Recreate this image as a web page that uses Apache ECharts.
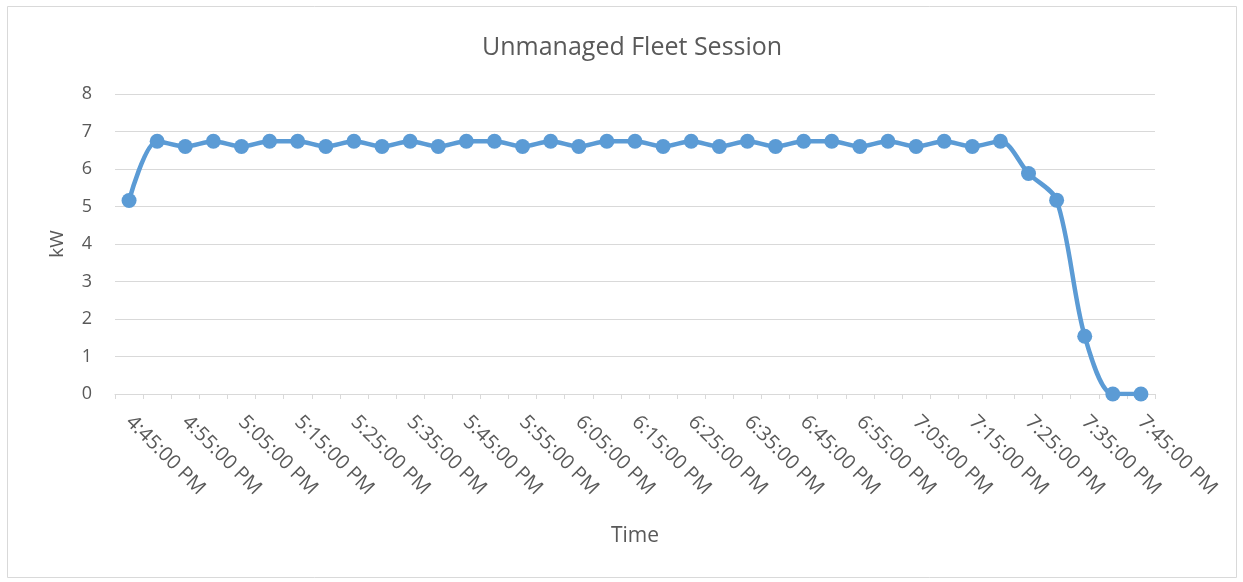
<!DOCTYPE html>
<html>
<head>
<meta charset="utf-8">
<title>Unmanaged Fleet Session</title>
<script src="https://cdn.jsdelivr.net/npm/echarts@6/dist/echarts.min.js"></script>
<style>
  html, body { margin: 0; padding: 0; background: #ffffff; }
  #chart { width: 1243px; height: 582px; }
</style>
</head>
<body>
<div id="chart"></div>
<script>
// Sample times, one every five minutes
const times = [
  '4:45:00 PM', '4:50:00 PM', '4:55:00 PM', '5:00:00 PM', '5:05:00 PM', '5:10:00 PM',
  '5:15:00 PM', '5:20:00 PM', '5:25:00 PM', '5:30:00 PM', '5:35:00 PM', '5:40:00 PM',
  '5:45:00 PM', '5:50:00 PM', '5:55:00 PM', '6:00:00 PM', '6:05:00 PM', '6:10:00 PM',
  '6:15:00 PM', '6:20:00 PM', '6:25:00 PM', '6:30:00 PM', '6:35:00 PM', '6:40:00 PM',
  '6:45:00 PM', '6:50:00 PM', '6:55:00 PM', '7:00:00 PM', '7:05:00 PM', '7:10:00 PM',
  '7:15:00 PM', '7:20:00 PM', '7:25:00 PM', '7:30:00 PM', '7:35:00 PM', '7:40:00 PM',
  '7:45:00 PM'
];

// Fleet charging power, kW
const powerKW = [
  5.16, 6.74, 6.60, 6.74, 6.60, 6.74, 6.74, 6.60, 6.74, 6.60,
  6.74, 6.60, 6.74, 6.74, 6.60, 6.74, 6.60, 6.74, 6.74, 6.60,
  6.74, 6.60, 6.74, 6.60, 6.74, 6.74, 6.60, 6.74, 6.60, 6.74,
  6.60, 6.74, 5.88, 5.17, 1.54, 0.00, 0.00
];

// Value axis ticks
const yTicks = [0, 1, 2, 3, 4, 5, 6, 7, 8];

const chartTitle = 'Unmanaged Fleet Session';
const xName = 'Time';
const yName = 'kW';

const textColor = '#595959';
const gridColor = '#d9d9d9';
const lineColor = '#5b9bd5';
const fontFamily = '"Open Sans", "Noto Sans", sans-serif';

const chart = echarts.init(document.getElementById('chart'), null, { renderer: 'canvas' });

chart.setOption({
  backgroundColor: '#ffffff',
  animation: false,
  textStyle: { fontFamily: fontFamily, color: textColor },
  graphic: [{
    type: 'rect',
    shape: { x: 7.5, y: 6.5, width: 1229, height: 571 },
    style: { fill: 'none', stroke: '#d9d9d9', lineWidth: 1 },
    silent: true
  }],
  title: {
    text: chartTitle,
    left: 477,
    top: 30,
    textStyle: { fontFamily: fontFamily, fontSize: 25, fontWeight: 'normal', color: textColor }
  },
  grid: { left: 115, right: 88, top: 94, bottom: 188, containLabel: false },
  xAxis: {
    type: 'category',
    data: times,
    boundaryGap: true,
    name: xName,
    nameLocation: 'middle',
    nameGap: 132,
    nameTextStyle: { fontFamily: fontFamily, fontSize: 21, color: textColor },
    axisLine: { show: true, lineStyle: { color: gridColor, width: 1 } },
    axisTick: { show: true, interval: 0, length: 5, lineStyle: { color: gridColor } },
    axisLabel: {
      interval: 1,
      rotate: -45,
      margin: 25,
      fontFamily: fontFamily,
      fontSize: 20,
      color: textColor
    },
    splitLine: { show: false }
  },
  yAxis: {
    type: 'value',
    min: yTicks[0],
    max: yTicks[yTicks.length - 1],
    interval: 1,
    name: yName,
    nameLocation: 'middle',
    nameGap: 48,
    nameRotate: 90,
    nameTextStyle: { fontFamily: fontFamily, fontSize: 19, color: textColor },
    axisLine: { show: false },
    axisTick: { show: false },
    axisLabel: { margin: 23, fontFamily: fontFamily, fontSize: 18, color: textColor },
    splitLine: { show: true, lineStyle: { color: gridColor, width: 1 } }
  },
  series: [{
    type: 'line',
    data: powerKW,
    smooth: 0.3,
    symbol: 'circle',
    symbolSize: 15,
    lineStyle: { color: lineColor, width: 4.5 },
    itemStyle: { color: lineColor },
    z: 3
  }]
});
</script>
</body>
</html>
